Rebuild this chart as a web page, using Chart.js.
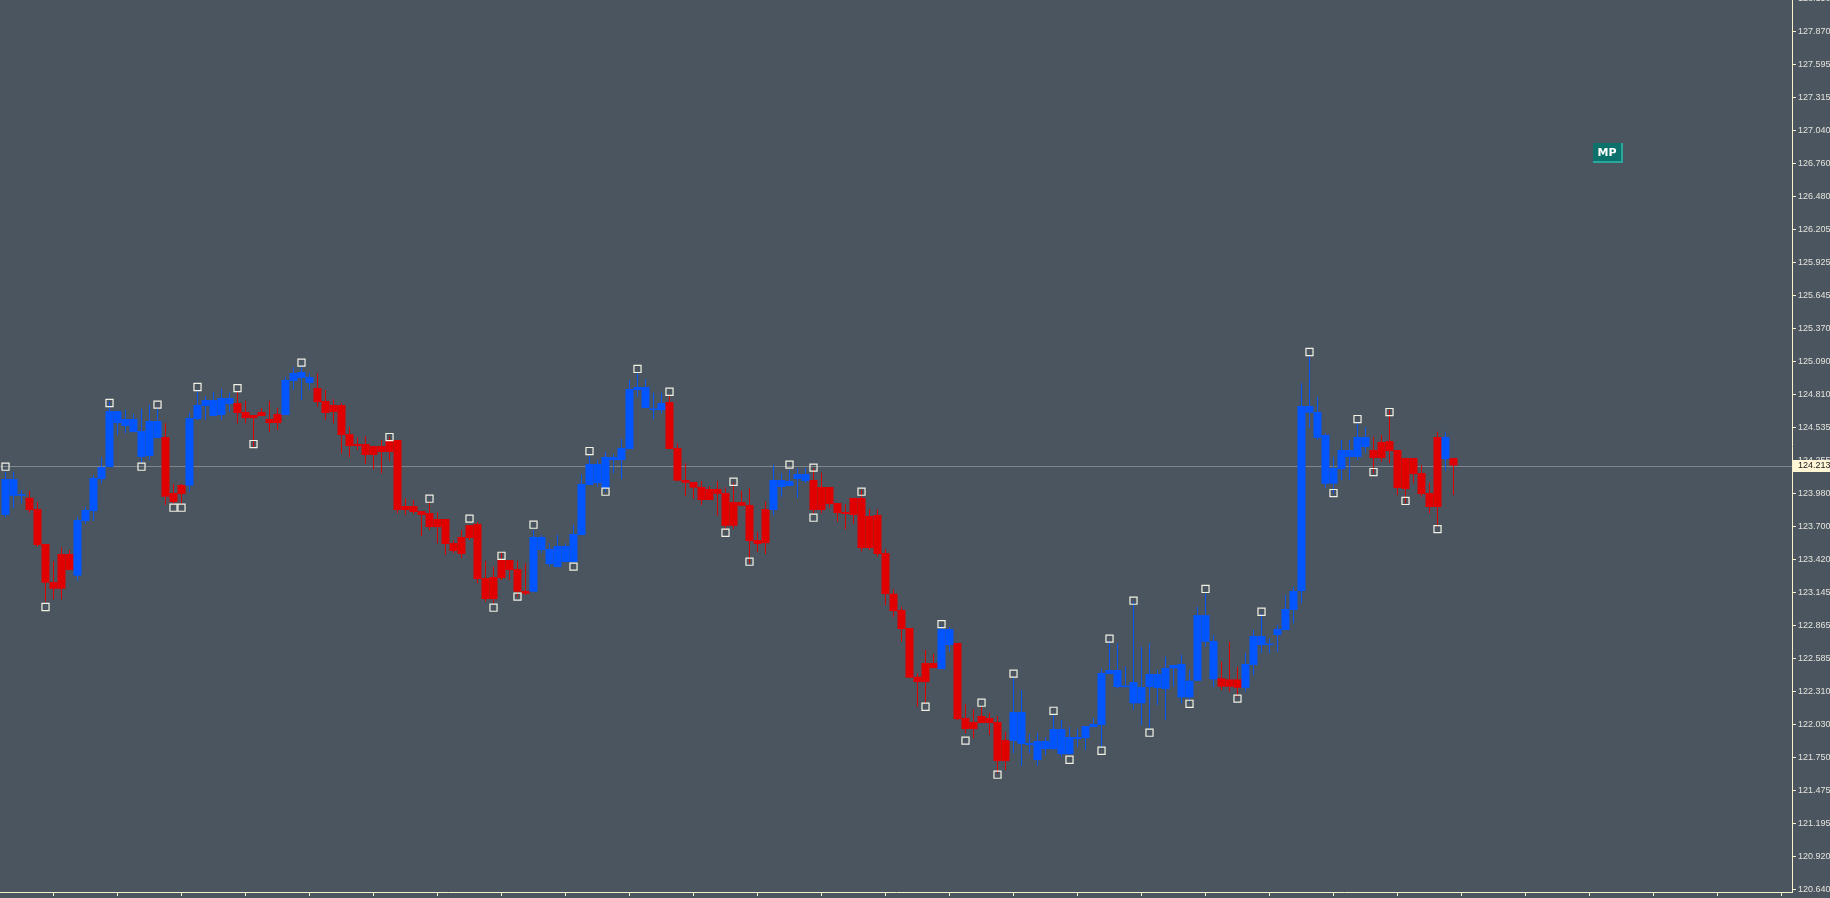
<!DOCTYPE html>
<html>
<head>
<meta charset="utf-8">
<script src="https://cdn.jsdelivr.net/npm/chart.js@4.4.1/dist/chart.umd.min.js"></script>
<style>
    html, body { margin: 0; padding: 0; background: #4b555f; overflow: hidden; }
    #wrap { position: relative; width: 1830px; height: 898px; }
    canvas { display: block; }
</style>
</head>
<body>
<div id="wrap"><canvas id="priceChart" width="1830" height="898"></canvas></div>
<script>
/* ---------------------------------------------------------------- */
/* 데이터 */
// trend: 1 = 파랑, -1 = 빨강
const trend = [
    1, 1, 1, -1, -1, -1, -1, -1, -1, 1, 1, 1, 1, 1, 1, 1, 1, 1, 1, 1,
    -1, -1, -1, 1, 1, 1, 1, 1, 1, -1, -1, -1, -1, -1, -1, 1, 1, 1, 1, -1,
    -1, -1, -1, -1, -1, -1, -1, -1, -1, -1, -1, -1, -1, -1, -1, -1, -1, -1, -1, -1,
    -1, -1, -1, -1, -1, -1, 1, 1, 1, 1, 1, 1, 1, 1, 1, 1, 1, 1, 1, 1,
    1, 1, 1, -1, -1, -1, -1, -1, -1, -1, -1, -1, -1, -1, -1, -1, 1, 1, 1, 1,
    1, -1, -1, -1, -1, -1, -1, -1, -1, -1, -1, -1, -1, -1, -1, -1, -1, 1, 1, -1,
    -1, -1, -1, -1, -1, -1, 1, 1, 1, 1, 1, 1, 1, 1, 1, 1, 1, 1, 1, 1,
    1, 1, 1, 1, 1, 1, 1, 1, 1, 1, 1, 1, -1, -1, -1, 1, 1, 1, 1, 1,
    1, 1, 1, 1, 1, 1, 1, 1, 1, 1, 1, -1, -1, -1, -1, -1, -1, -1, -1, -1,
    1, -1
];
const opens = [
    123.796, 123.958, 123.958, 123.941, 123.846, 123.551, 123.231, 123.467, 123.467, 123.284,
    123.745, 123.829, 124.099, 124.200, 124.571, 124.546, 124.495, 124.285, 124.293, 124.445,
    124.453, 123.981, 124.049, 124.043, 124.605, 124.715, 124.630, 124.639, 124.731, 124.740,
    124.664, 124.639, 124.664, 124.605, 124.647, 124.639, 124.926, 124.951, 124.909, 124.866,
    124.757, 124.723, 124.723, 124.478, 124.394, 124.394, 124.377, 124.377, 124.428, 124.428,
    123.871, 123.871, 123.829, 123.812, 123.762, 123.762, 123.559, 123.610, 123.711, 123.720,
    123.264, 123.273, 123.416, 123.416, 123.340, 123.155, 123.149, 123.500, 123.382, 123.357,
    123.399, 123.399, 123.627, 124.049, 124.065, 124.023, 124.259, 124.259, 124.352, 124.850,
    124.698, 124.681, 124.681, 124.748, 124.360, 124.091, 124.074, 124.032, 124.015, 124.015,
    123.981, 123.905, 123.905, 123.880, 123.585, 123.846, 123.838, 124.032, 124.040, 124.099,
    124.082, 124.091, 124.032, 124.032, 123.897, 123.821, 123.939, 123.939, 123.787, 123.796,
    123.475, 123.132, 122.995, 122.843, 122.432, 122.548, 122.548, 122.497, 122.699, 122.716,
    122.084, 122.050, 122.101, 122.084, 122.050, 121.898, 121.890, 121.865, 121.856, 121.730,
    121.822, 121.822, 121.780, 121.780, 121.907, 121.915, 122.008, 122.025, 122.455, 122.345,
    122.345, 122.208, 122.208, 122.345, 122.337, 122.328, 122.503, 122.258, 122.258, 122.398,
    122.727, 122.410, 122.419, 122.410, 122.410, 122.339, 122.531, 122.699, 122.699, 122.784,
    122.826, 122.995, 123.155, 124.658, 124.447, 124.060, 124.060, 124.183, 124.285, 124.285,
    124.369, 124.344, 124.411, 124.419, 124.344, 124.276, 124.276, 124.150, 123.981, 124.453,
    124.267, 124.276
];
const highs = [
    124.161, 124.161, 124.006, 123.998, 123.908, 123.551, 123.408, 123.523, 123.500, 123.781,
    123.865, 124.133, 124.282, 124.751, 124.672, 124.681, 124.647, 124.689, 124.723, 124.689,
    124.569, 124.057, 124.057, 124.653, 124.841, 124.799, 124.833, 124.855, 124.827, 124.835,
    124.759, 124.639, 124.698, 124.757, 124.698, 124.962, 125.041, 125.046, 124.990, 124.990,
    124.850, 124.771, 124.737, 124.540, 124.451, 124.462, 124.377, 124.428, 124.456, 124.428,
    123.936, 123.922, 123.829, 123.908, 123.821, 123.762, 123.585, 123.669, 123.711, 123.739,
    123.408, 123.360, 123.483, 123.416, 123.408, 123.388, 123.669, 123.627, 123.557, 123.627,
    123.557, 123.711, 124.141, 124.293, 124.259, 124.329, 124.310, 124.436, 124.934, 124.995,
    124.940, 124.827, 124.827, 124.801, 124.400, 124.232, 124.074, 124.082, 124.040, 124.080,
    124.029, 124.068, 123.998, 124.021, 123.655, 123.908, 124.217, 124.147, 124.175, 124.189,
    124.195, 124.189, 124.152, 124.032, 123.897, 123.888, 123.939, 124.006, 123.846, 123.844,
    123.509, 123.169, 123.022, 122.843, 122.461, 122.657, 122.624, 122.860, 122.851, 122.716,
    122.202, 122.157, 122.179, 122.129, 122.101, 121.966, 122.427, 122.320, 121.949, 121.955,
    121.921, 122.109, 122.067, 122.010, 121.991, 122.016, 122.081, 122.497, 122.733, 122.714,
    122.516, 123.064, 122.685, 122.714, 122.489, 122.600, 122.531, 122.615, 122.489, 123.022,
    123.135, 122.784, 122.559, 122.727, 122.516, 122.629, 122.826, 122.967, 122.756, 122.868,
    123.121, 123.191, 124.906, 125.145, 124.793, 124.485, 124.287, 124.428, 124.428, 124.569,
    124.535, 124.456, 124.470, 124.681, 124.344, 124.276, 124.276, 124.217, 124.068, 124.498,
    124.498, 124.276
];
const lows = [
    123.776, 123.852, 123.894, 123.815, 123.528, 123.064, 123.085, 123.085, 123.332, 123.242,
    123.717, 123.745, 124.063, 124.200, 124.470, 124.484, 124.495, 124.232, 124.259, 124.445,
    123.880, 123.880, 123.880, 123.992, 124.597, 124.597, 124.630, 124.597, 124.667, 124.569,
    124.569, 124.372, 124.630, 124.498, 124.512, 124.639, 124.850, 124.765, 124.850, 124.709,
    124.597, 124.569, 124.316, 124.282, 124.344, 124.226, 124.181, 124.147, 124.253, 123.810,
    123.796, 123.804, 123.618, 123.669, 123.557, 123.458, 123.473, 123.431, 123.585, 123.220,
    123.064, 123.051, 123.247, 123.247, 123.107, 123.121, 123.149, 123.473, 123.360, 123.357,
    123.399, 123.399, 123.627, 124.049, 124.034, 123.992, 124.147, 124.099, 124.352, 124.793,
    124.698, 124.605, 124.653, 124.352, 124.085, 123.958, 123.930, 123.880, 123.922, 123.790,
    123.669, 123.677, 123.874, 123.388, 123.486, 123.467, 123.796, 123.950, 124.040, 123.941,
    124.068, 123.810, 123.810, 123.852, 123.739, 123.675, 123.720, 123.489, 123.500, 123.444,
    123.037, 122.938, 122.727, 122.424, 122.179, 122.208, 122.505, 122.497, 122.643, 122.067,
    121.955, 121.913, 122.042, 121.940, 121.618, 121.645, 121.786, 121.679, 121.786, 121.682,
    121.772, 121.814, 121.758, 121.772, 121.842, 121.814, 122.008, 121.842, 122.455, 122.334,
    122.345, 122.151, 122.025, 121.997, 122.194, 122.067, 122.348, 122.208, 122.221, 122.398,
    122.685, 122.348, 122.320, 122.306, 122.263, 122.306, 122.447, 122.629, 122.629, 122.643,
    122.826, 122.882, 123.051, 124.527, 124.428, 124.021, 123.978, 124.091, 124.091, 124.259,
    124.316, 124.147, 124.245, 124.232, 123.964, 123.894, 124.063, 123.950, 123.810, 123.697,
    124.169, 123.964
];
const closes = [
    124.099, 124.099, 123.970, 123.838, 123.543, 123.225, 123.174, 123.174, 123.332, 123.753,
    123.838, 124.107, 124.200, 124.672, 124.672, 124.605, 124.605, 124.504, 124.588, 124.588,
    123.950, 123.905, 123.973, 124.613, 124.723, 124.765, 124.765, 124.782, 124.782, 124.656,
    124.613, 124.613, 124.630, 124.571, 124.571, 124.934, 124.993, 125.001, 124.959, 124.748,
    124.656, 124.664, 124.470, 124.377, 124.377, 124.302, 124.302, 124.327, 124.327, 123.838,
    123.838, 123.821, 123.796, 123.694, 123.694, 123.551, 123.492, 123.467, 123.602, 123.256,
    123.087, 123.087, 123.264, 123.332, 123.149, 123.132, 123.610, 123.610, 123.509, 123.534,
    123.534, 123.635, 124.057, 124.226, 124.226, 124.285, 124.285, 124.360, 124.858, 124.875,
    124.875, 124.692, 124.740, 124.352, 124.085, 124.068, 124.026, 123.922, 123.922, 123.975,
    123.705, 123.705, 123.874, 123.576, 123.551, 123.559, 124.091, 124.091, 124.082, 124.141,
    124.141, 123.838, 123.838, 123.888, 123.812, 123.804, 123.796, 123.517, 123.517, 123.467,
    123.129, 122.986, 122.834, 122.424, 122.387, 122.387, 122.505, 122.834, 122.834, 122.075,
    121.991, 121.991, 122.042, 122.042, 121.721, 121.721, 122.134, 122.134, 121.873, 121.890,
    121.890, 121.991, 121.991, 121.924, 121.924, 122.016, 122.033, 122.463, 122.489, 122.489,
    122.354, 122.387, 122.345, 122.455, 122.455, 122.505, 122.531, 122.539, 122.398, 122.952,
    122.952, 122.733, 122.348, 122.348, 122.339, 122.539, 122.775, 122.775, 122.708, 122.834,
    123.003, 123.155, 124.715, 124.715, 124.664, 124.470, 124.192, 124.344, 124.344, 124.453,
    124.453, 124.276, 124.276, 124.335, 124.023, 124.015, 124.141, 123.973, 123.863, 123.863,
    124.453, 124.213
];

// 프랙탈 (봉 번호, 가격)
const upFractalIdx = [0, 13, 19, 24, 29, 37, 48, 53, 58, 62, 66, 73, 79, 83, 91, 98, 101, 107, 117, 122, 126, 131, 138, 141, 150, 157, 163, 169, 173];
const upFractalPrice = [124.203, 124.740, 124.726, 124.875, 124.866, 125.080, 124.453, 123.933, 123.765, 123.452, 123.714, 124.335, 125.027, 124.835, 124.076, 124.220, 124.195, 123.992, 122.876, 122.213, 122.458, 122.145, 122.753, 123.073, 123.172, 122.980, 125.170, 124.605, 124.664];
const downFractalIdx = [5, 17, 21, 22, 31, 61, 64, 71, 75, 90, 93, 101, 115, 120, 124, 133, 137, 143, 148, 154, 166, 171, 175, 179];
const downFractalPrice = [123.020, 124.203, 123.857, 123.857, 124.394, 123.014, 123.107, 123.360, 123.992, 123.646, 123.402, 123.773, 122.179, 121.893, 121.606, 121.732, 121.808, 121.960, 122.204, 122.247, 123.981, 124.158, 123.914, 123.677];

// 가격 눈금
const yTickLabels = [
    '120.640', '120.920', '121.195', '121.475', '121.750', '122.030', '122.310',
    '122.585', '122.865', '123.145', '123.420', '123.700', '123.980', '124.255',
    '124.535', '124.810', '125.090', '125.370', '125.645', '125.925', '126.205',
    '126.480', '126.760', '127.040', '127.315', '127.595', '127.870', '128.150'
];

const lastPrice = 124.213;
const mpLabel = 'MP';
const mpIndex = 200.25;
const mpPrice = 126.85;

/* ---------------------------------------------------------------- */
const BLUE = '#0055ff';
const RED = '#e00000';
const AXIS = '#f6f0cc';

const barColors = trend.map(t => t > 0 ? BLUE : RED);
const bodyData = opens.map((o, i) => ({ x: i, y: [o, closes[i]] }));
const wickData = highs.map((h, i) => ({ x: i, y: [lows[i], h] }));
const upData = upFractalIdx.map((x, i) => ({ x: x, y: upFractalPrice[i] }));
const downData = downFractalIdx.map((x, i) => ({ x: x, y: downFractalPrice[i] }));

const pricePlugin = {
    id: 'pricePlugin',
    beforeDatasetsDraw(chart) {
        const { ctx, chartArea, scales } = chart;
        const y = Math.round(scales.y.getPixelForValue(lastPrice)) + 0.5;
        ctx.save();
        ctx.strokeStyle = '#7e858c';
        ctx.lineWidth = 1;
        ctx.beginPath();
        ctx.moveTo(chartArea.left, y);
        ctx.lineTo(chartArea.right, y);
        ctx.stroke();
        ctx.restore();
    },
    afterDraw(chart) {
        const { ctx, chartArea, scales } = chart;
        const y = Math.round(scales.y.getPixelForValue(lastPrice));
        ctx.save();
        // 현재가 박스
        ctx.fillStyle = '#fff6d6';
        ctx.fillRect(chartArea.right + 1, y - 6, 40, 12);
        ctx.fillStyle = '#1a1a1a';
        ctx.font = '9px "Liberation Sans"';
        ctx.textBaseline = 'middle';
        ctx.textAlign = 'left';
        ctx.fillText(lastPrice.toFixed(3), chartArea.right + 6, y);

        // MP 라벨
        const mx = Math.round(scales.x.getPixelForValue(mpIndex));
        const my = Math.round(scales.y.getPixelForValue(mpPrice));
        ctx.fillStyle = '#2aa79c';
        ctx.fillRect(mx - 15, my - 10, 30, 20);
        ctx.fillStyle = '#0c716b';
        ctx.fillRect(mx - 15, my - 10, 28, 18);
        ctx.fillStyle = '#ffffff';
        ctx.font = 'bold 11px "DejaVu Sans"';
        ctx.textAlign = 'center';
        ctx.fillText(mpLabel, mx - 1, my);
        ctx.restore();
    }
};

const ctx = document.getElementById('priceChart').getContext('2d');

new Chart(ctx, {
    type: 'bar',
    data: {
        datasets: [
            {
                type: 'scatter',
                data: upData,
                pointStyle: 'rect',
                pointRadius: 5,
                pointBorderWidth: 1.2,
                pointBorderColor: '#f2f2e4',
                pointBackgroundColor: 'rgba(0,0,0,0)'
            },
            {
                type: 'scatter',
                data: downData,
                pointStyle: 'rect',
                pointRadius: 5,
                pointBorderWidth: 1.2,
                pointBorderColor: '#f2f2e4',
                pointBackgroundColor: 'rgba(0,0,0,0)'
            },
            {
                data: bodyData,
                backgroundColor: barColors,
                barThickness: 8,
                minBarLength: 1.5,
                grouped: false,
                inflateAmount: 0,
                borderWidth: 0
            },
            {
                data: wickData,
                backgroundColor: barColors,
                barThickness: 1,
                grouped: false,
                inflateAmount: 0,
                borderWidth: 0
            }
        ]
    },
    options: {
        responsive: false,
        animation: false,
        devicePixelRatio: 1,
        layout: { padding: 0, autoPadding: false },
        plugins: {
            legend: { display: false },
            tooltip: { enabled: false }
        },
        scales: {
            x: {
                type: 'linear',
                position: 'bottom',
                min: -0.6875,
                max: 223.3125,
                offset: false,
                grid: { offset: false, drawOnChartArea: false, drawTicks: true, tickLength: 4, color: AXIS },
                border: { display: true, color: AXIS, width: 1 },
                ticks: { display: false },
                afterBuildTicks: function(scale) {
                    // 8봉마다 눈금
                    const t = [];
                    for (let v = 6; v < scale.max; v += 8) t.push({ value: v });
                    scale.ticks = t;
                },
                afterFit: function(scale) {
                    scale.height = 6;
                    scale.paddingLeft = 0;
                    scale.paddingRight = 0;
                }
            },
            y: {
                type: 'linear',
                position: 'right',
                min: 120.617,
                max: 128.138,
                beginAtZero: false,
                bounds: 'data',
                grid: { drawOnChartArea: false, drawTicks: true, tickLength: 4, color: AXIS },
                border: { display: true, color: AXIS, width: 1 },
                ticks: {
                    autoSkip: false,
                    padding: 2,
                    color: '#e4e4dc',
                    font: { family: 'Liberation Sans', size: 9 },
                    callback: function(value) {
                        return Number(value).toFixed(3);
                    }
                },
                afterBuildTicks: function(scale) {
                    scale.ticks = yTickLabels.map(v => ({ value: parseFloat(v) }));
                },
                afterFit: function(scale) {
                    scale.width = 38;
                    scale.paddingTop = 0;
                    scale.paddingBottom = 0;
                }
            }
        }
    },
    plugins: [pricePlugin]
});
</script>
</body>
</html>
